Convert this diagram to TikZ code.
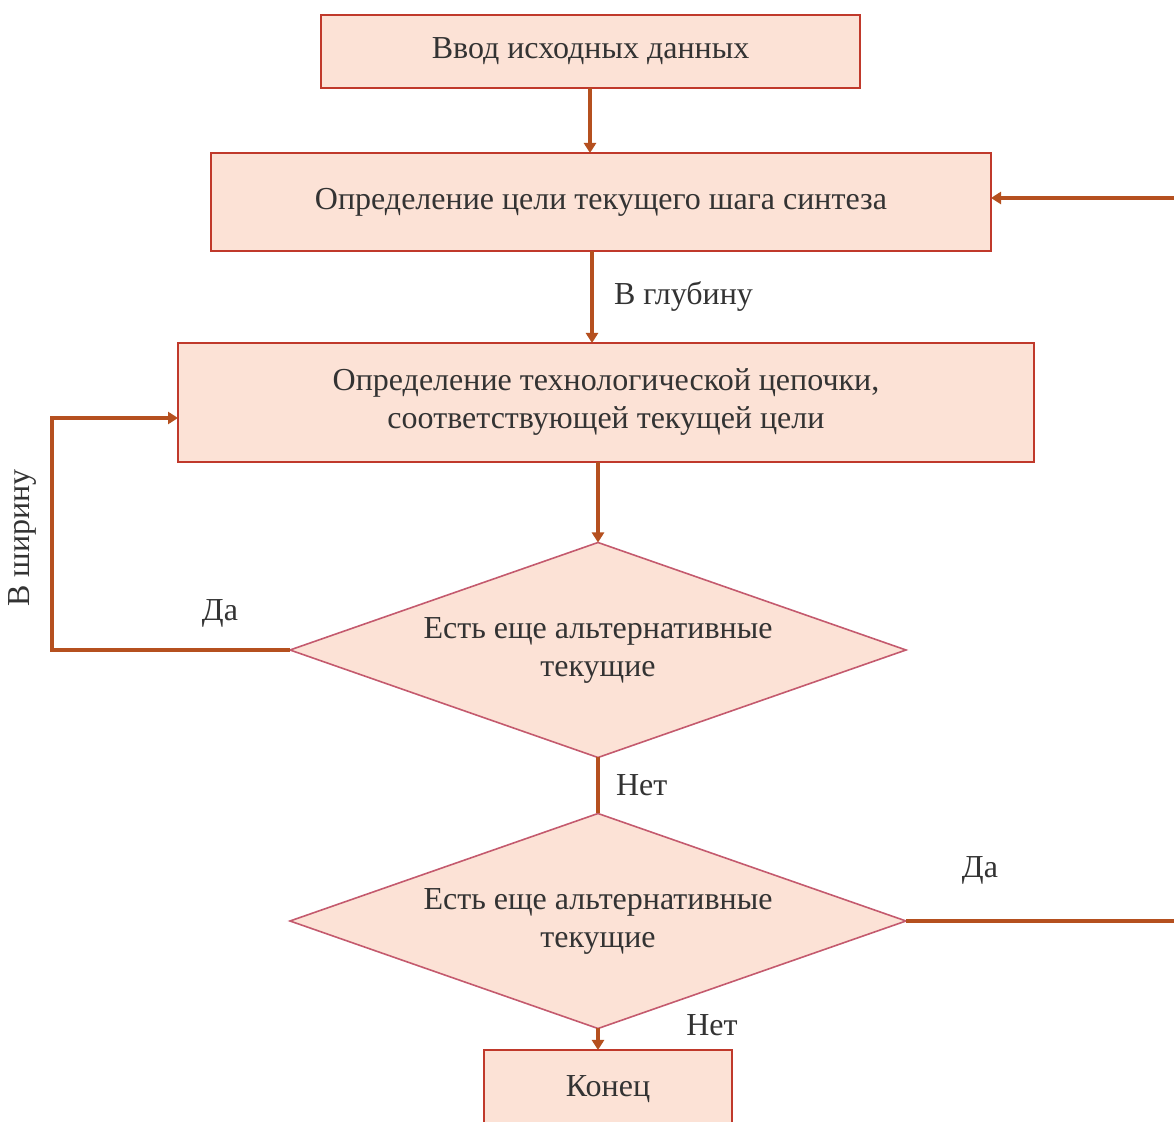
\documentclass[tikz,border=0pt]{standalone}
\usepackage{fontspec}
\setmainfont{Liberation Serif}
\usetikzlibrary{shapes.geometric,arrows.meta}
\definecolor{boxfill}{HTML}{FCE2D6}
\definecolor{boxline}{HTML}{C0392B}
\definecolor{diaLine}{HTML}{C45A6E}
\definecolor{flow}{HTML}{B5501F}
\definecolor{txt}{HTML}{333333}
\tikzset{
  stepbox/.style={draw=boxline, fill=boxfill, line width=0.8pt, inner sep=0pt, outer sep=0pt,
    text=txt, font=\fontsize{16}{19}\selectfont, align=center},
  choice/.style={diamond, aspect=2.865, draw=diaLine, fill=boxfill, line width=0.8pt, inner sep=0pt, outer sep=0pt,
    minimum width=308pt, minimum height=107.5pt, text=txt, font=\fontsize{16}{19}\selectfont, align=center},
  flowline/.style={draw=flow, line width=2pt},
  flowarrow/.style={flowline, -{Triangle[length=5pt,width=6pt]}},
  lbl/.style={text=txt, font=\fontsize{16}{19}\selectfont, inner sep=0pt}
}
\begin{document}
\begin{tikzpicture}[x=0.5pt,y=-0.5pt]
\clip (0,0) rectangle (1174,1122);
\fill[white] (0,0) rectangle (1174,1122);

\node[stepbox, minimum width=269.5pt, minimum height=36.5pt] (input) at (590.5,51.5) {\raisebox{-1.5pt}{Ввод исходных данных}};
\node[stepbox, minimum width=390pt, minimum height=49pt] (goal) at (601,202) {\raisebox{-1.5pt}{Определение цели текущего шага синтеза}};
\node[stepbox, minimum width=428pt, minimum height=59.5pt] (chain) at (606,402.5) {\raisebox{-1.5pt}{Определение технологической цепочки,}\\\raisebox{-1.5pt}{соответствующей текущей цели}};
\node[choice] (alt1) at (598,650) {Есть еще альтернативные\\текущие};
\node[choice] (alt2) at (598,921) {Есть еще альтернативные\\текущие};
\node[stepbox, minimum width=124pt, minimum height=50pt, anchor=north] (finish) at (608,1050) {};
\node[lbl] (finishtxt) at (608,1089) {Конец};

\coordinate (backin) at (1180,198);
\coordinate (yesout) at (1180,921);
\coordinate (leftdown) at (52,650);
\coordinate (leftup) at (52,418);

\draw[flowarrow] (input.south -| 590,0) -- (goal.north -| 590,0);
\draw[flowarrow] (goal.south -| 592,0) -- node[lbl, right=10pt, pos=0.5] (deep) {В глубину} (chain.north -| 592,0);
\draw[flowarrow] (backin) -- (goal.east |- backin);
\draw[flowarrow] (chain.south -| alt1.north) -- (alt1.north);
\draw[flowarrow] (alt1.west) -- (leftdown) -- (leftup) -- (chain.west |- leftup);
\draw[flowline] (alt1.south) -- node[lbl, right=8pt] (no1) {Нет} (alt2.north);
\draw[flowline] (alt2.east) -- (yesout);
\draw[flowarrow] (alt2.south) -- (finish.north -| alt2.south);

\node[lbl] (yes1) at (220,613) {Да};
\node[lbl, rotate=90] (wide) at (22,538) {В ширину};
\node[lbl] (yes2) at (980,870) {Да};
\node[lbl] (no2) at (712,1025) {Нет};
\end{tikzpicture}
\end{document}
